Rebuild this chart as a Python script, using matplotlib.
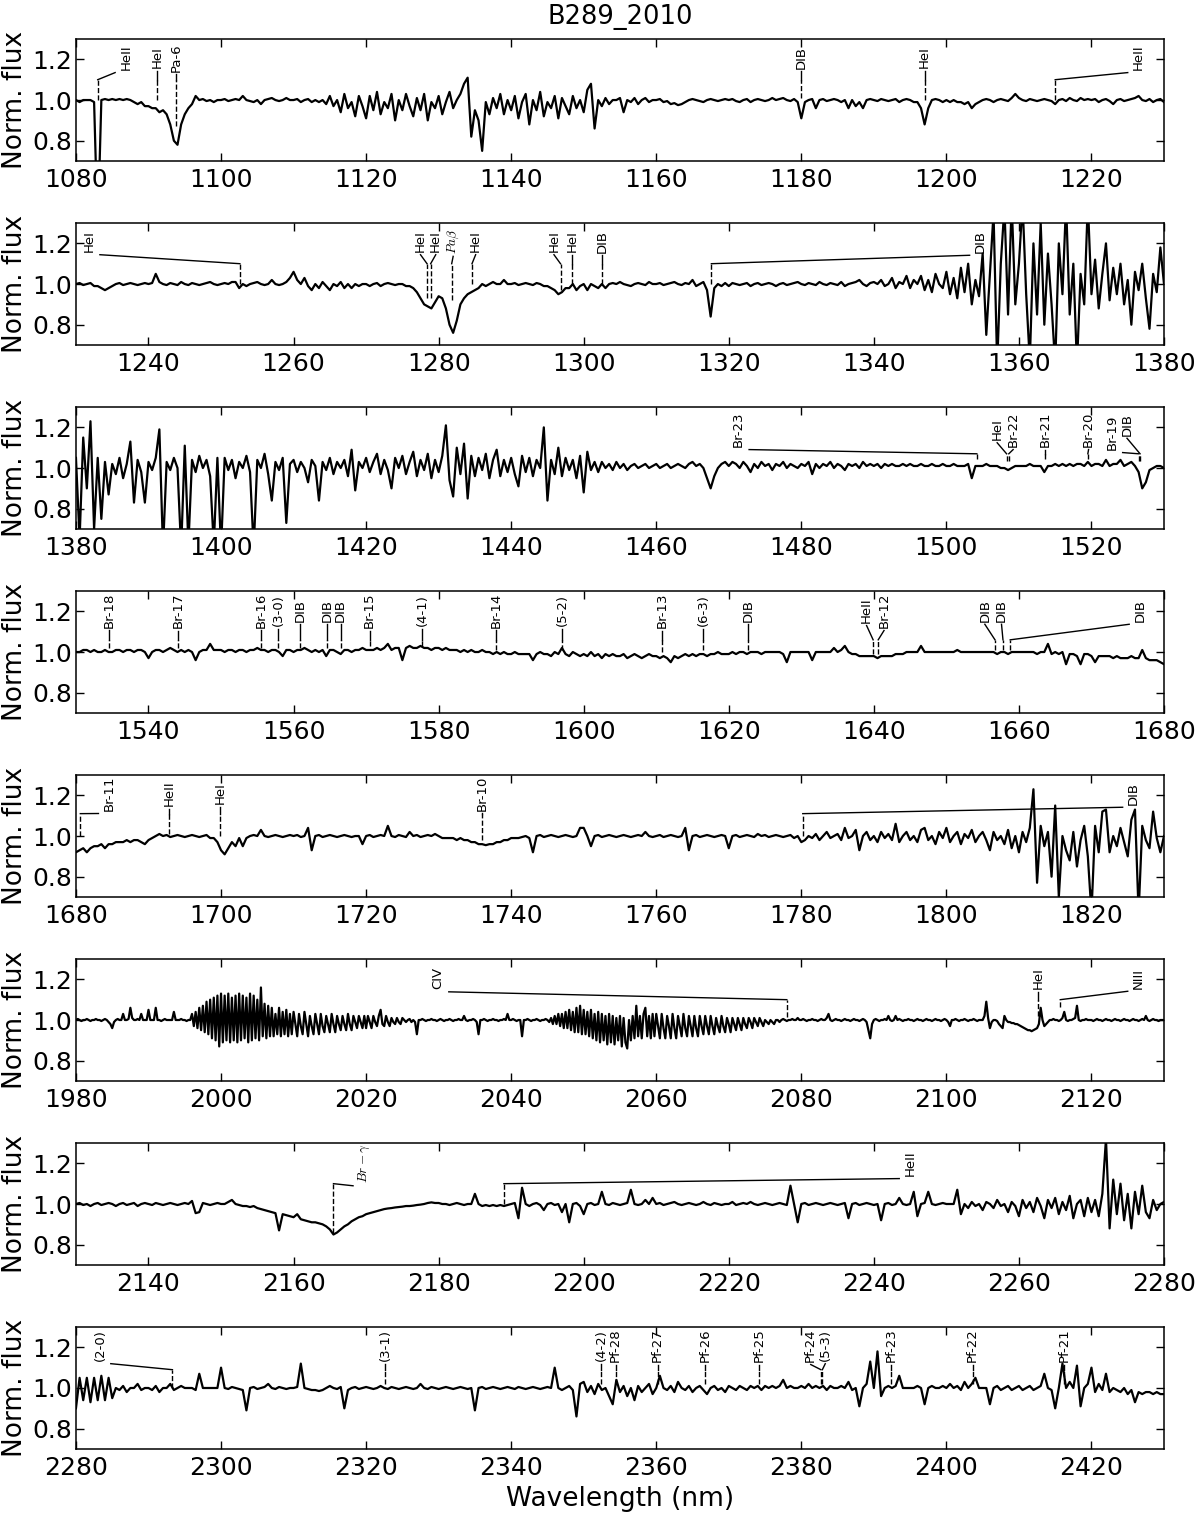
import numpy as np
import matplotlib
matplotlib.use('Agg')
import matplotlib.pyplot as plt
from matplotlib.ticker import MultipleLocator, FormatStrFormatter

plt.rcParams['font.family'] = ['DejaVu Sans']
plt.rcParams['mathtext.fontset'] = 'cm'

# ---------------- data ----------------
title = 'B289_2010'
ranges = [(1080, 1230), (1230, 1380), (1380, 1530), (1530, 1680),
          (1680, 1830), (1980, 2130), (2130, 2280), (2280, 2430)]

flux_1080_1230 = [
    1.00,0.99,1.00,1.00,1.00,0.99,0.35,1.00,1.005,1.00, 1.005,1.00,1.005,1.00,1.005,1.00,0.99,0.98,0.99,0.97,
    0.97,0.96,0.96,0.94,0.95,0.93,0.88,0.80,0.78,0.88, 0.93,0.96,0.98,1.02,1.00,1.005,0.995,1.00,0.99,1.00,
    1.00,1.005,0.995,1.00,1.005,1.00,1.02,1.00,0.995,0.99, 1.00,0.98,1.00,1.005,1.01,1.00,0.995,1.00,1.01,1.00,
    1.00,1.005,0.99,1.00,1.005,0.99,1.00,0.99,1.00,0.98, 1.02,0.97,1.00,0.94,1.03,0.96,0.99,0.92,1.02,0.97,
    0.91,1.02,0.95,1.04,0.93,0.99,0.96,1.03,0.90,1.00, 0.95,1.03,0.97,0.92,1.01,0.95,1.03,0.90,0.99,0.96,
    1.02,0.93,0.99,1.04,0.96,1.00,1.03,1.08,1.11,0.82, 0.95,0.90,0.75,0.99,0.93,1.01,0.96,1.03,0.93,1.00,
    0.95,1.02,0.91,0.99,1.03,0.88,1.00,0.95,1.04,0.92, 0.99,0.96,1.02,0.91,1.01,0.97,0.93,1.02,0.96,1.00,
    0.94,1.05,1.08,0.86,1.00,0.97,1.01,0.98,1.00,1.00, 1.01,0.94,1.00,0.99,1.01,0.98,1.00,1.01,0.99,1.00,
    1.00,1.005,0.99,0.995,0.98,0.985,0.975,0.98,0.99,1.00, 1.005,1.00,0.995,0.99,1.00,1.005,1.00,0.995,1.00,1.005,
    1.00,1.005,0.995,0.99,1.00,1.005,0.99,1.00,1.005,1.00, 0.995,1.00,1.01,1.00,1.005,1.01,1.00,0.995,1.005,0.99,
    0.91,0.99,1.00,1.005,0.96,1.00,1.005,0.995,1.00,1.005, 1.00,0.99,1.00,0.96,1.00,0.97,0.99,0.96,1.00,1.005,
    1.00,0.995,1.005,1.00,0.995,1.00,1.005,0.99,1.00,1.005, 1.00,0.99,0.99,0.96,0.88,0.96,1.00,1.005,1.00,0.99,
    1.00,0.99,1.00,0.99,0.99,0.98,0.99,0.96,0.98,0.99, 1.00,1.005,1.00,0.99,1.00,1.005,1.00,0.995,1.01,1.03,
    1.01,1.00,0.995,1.005,1.00,0.995,1.00,1.005,1.00,0.995, 0.98,1.00,1.005,0.995,1.01,1.00,0.995,1.01,1.00,1.005,
    1.00,1.005,0.99,1.00,1.005,0.995,0.98,1.00,1.005,0.995, 1.00,1.005,1.01,1.02,1.00,0.995,1.005,0.99,1.00,1.005,
    0.99]

flux_1230_1380 = [
    1.00,1.005,0.995,1.00,1.005,0.99,0.99,0.98,0.97,0.98, 0.99,1.00,1.005,0.995,1.00,1.005,1.00,0.995,1.00,1.005,
    1.00,1.005,1.05,1.01,1.00,0.995,1.005,1.00,0.995,1.01, 1.00,0.995,1.005,1.00,0.995,1.00,1.005,1.01,1.00,0.995,
    1.00,1.005,1.00,1.01,1.01,0.98,1.00,0.99,1.00,1.005, 1.01,1.00,0.995,1.00,1.02,1.00,0.995,1.00,1.01,1.03,
    1.06,1.02,1.00,1.03,0.99,0.97,1.00,0.98,1.01,0.99, 0.97,1.00,0.99,1.01,0.98,1.00,0.98,1.00,0.99,1.00,
    1.00,0.99,1.00,1.005,0.99,1.00,1.005,1.00,0.995,1.00, 1.00,0.99,0.99,0.98,0.96,0.93,0.90,0.89,0.88,0.91,
    0.94,0.93,0.88,0.80,0.76,0.82,0.90,0.93,0.95,0.96, 0.97,0.98,1.00,0.99,1.00,1.01,1.00,1.00,1.02,1.00,
    1.00,1.005,0.995,1.00,1.005,1.00,0.995,1.005,1.00,0.99, 0.99,0.98,0.97,0.95,0.96,0.98,0.98,1.00,0.97,0.99,
    1.00,0.97,1.00,0.99,0.98,1.00,0.98,1.00,1.005,1.00, 1.01,1.00,0.995,0.99,1.00,1.005,1.00,0.995,1.01,1.00,
    1.00,1.005,0.995,1.00,1.005,1.01,1.00,0.995,1.005,1.00, 1.02,0.99,1.00,1.01,0.97,0.84,0.98,1.00,0.99,1.005,
    0.99,1.005,1.00,0.995,1.00,1.005,0.99,1.00,1.005,0.995, 1.00,1.005,1.00,0.99,1.00,1.005,0.995,1.00,1.005,1.01,
    1.00,0.995,1.005,1.00,0.995,1.01,1.00,0.995,1.005,1.00, 0.995,1.01,0.99,1.00,1.005,1.01,1.02,1.00,0.99,1.005,
    1.01,1.00,1.02,0.99,1.00,1.03,0.98,1.01,1.00,1.04, 0.98,1.02,1.00,1.04,0.97,1.02,0.96,1.05,1.00,0.98,
    1.06,0.95,1.03,0.93,1.08,0.96,1.10,0.90,1.02,0.94, 1.15,0.75,1.05,1.35,0.60,1.10,1.38,0.85,1.40,0.90,
    1.10,1.40,0.95,0.62,1.20,0.85,1.30,0.80,1.15,0.90, 0.60,1.20,0.95,1.40,0.85,1.10,0.60,1.05,0.90,1.40,
    0.95,1.12,0.88,1.05,1.20,0.92,1.08,0.95,1.10,0.90, 1.02,0.80,1.06,0.97,1.10,0.93,0.78,1.05,0.96,1.18,
    1.00]

flux_1380_1530 = [
    1.05,0.65,1.15,0.90,1.23,0.70,1.05,0.75,1.03,0.87, 1.02,0.97,1.05,0.95,1.02,1.13,0.83,1.04,0.98,0.83,
    1.03,0.99,1.05,1.19,0.60,1.03,0.99,1.05,1.00,0.60, 1.11,0.62,1.04,0.98,1.06,1.00,1.04,0.96,0.62,1.05,
    0.60,1.05,0.99,1.04,0.95,1.03,1.00,1.06,0.98,0.60, 1.04,1.00,1.07,0.97,0.84,1.03,0.99,1.05,0.73,1.02,
    1.04,0.98,1.03,1.00,0.93,1.04,1.01,0.84,1.03,0.99, 1.05,0.97,1.03,1.00,1.04,0.96,1.09,0.89,1.03,1.00,
    1.05,0.98,1.03,1.07,0.97,1.04,0.99,0.90,1.05,1.00, 1.06,0.97,1.03,1.08,0.96,1.04,0.99,1.07,0.95,1.04,
    0.98,1.06,1.21,0.94,0.86,1.10,0.97,1.12,0.85,1.06, 0.96,1.05,0.99,1.07,0.95,1.04,1.09,0.96,1.04,0.98,
    1.05,0.97,0.91,1.06,0.98,1.05,0.96,1.04,1.00,1.20, 0.84,1.04,0.97,1.10,0.96,1.05,0.99,1.04,0.95,1.06,
    0.88,1.08,0.99,1.03,0.98,1.03,1.00,1.02,0.99,1.03, 1.00,1.02,0.99,1.01,1.02,1.00,1.01,1.02,1.00,1.01,
    1.02,1.00,1.01,1.02,1.00,1.01,1.02,1.01,1.00,1.02, 1.03,1.01,1.02,1.00,0.95,0.90,0.96,1.00,1.02,1.03,
    1.01,1.03,1.02,1.00,1.03,1.01,0.98,1.02,1.00,1.03, 1.01,1.02,0.99,1.02,1.01,1.03,1.00,1.02,1.01,1.00,
    1.02,1.01,1.03,0.97,1.02,1.00,1.02,1.01,1.03,1.00, 1.02,1.01,0.99,1.02,1.01,1.02,1.00,1.03,1.01,1.02,
    1.01,1.02,1.00,1.02,1.01,1.02,1.01,1.01,1.02,1.01, 1.02,1.01,1.01,1.02,1.01,1.01,1.02,1.01,1.01,1.02,
    1.01,1.01,1.02,1.01,1.01,1.01,1.02,0.95,1.01,1.01, 1.01,1.02,1.01,1.01,1.01,1.00,1.00,0.99,1.00,1.01,
    1.01,1.01,1.01,1.02,1.01,1.01,1.01,0.98,1.01,1.01, 1.02,1.01,1.02,1.01,1.02,1.01,1.02,1.02,1.01,1.03,
    1.01,1.02,1.02,1.01,1.04,1.01,1.02,1.02,1.04,1.01, 1.02,1.03,1.01,0.98,0.90,0.93,0.99,1.00,1.01,1.01,
    1.00]

flux_1530_1680 = [
    1.00,1.00,1.01,1.01,1.00,1.01,1.00,1.00,1.01,1.00, 1.00,1.01,1.01,1.00,1.01,1.01,1.00,1.01,1.01,1.00,
    0.97,1.00,1.01,1.01,1.00,1.01,1.02,1.01,1.00,1.01, 1.00,1.01,1.00,0.96,1.00,1.01,1.01,1.04,1.01,1.01,
    1.01,1.00,1.01,1.01,1.00,1.01,1.01,1.00,1.01,1.01, 1.02,1.01,1.01,1.00,1.01,1.01,1.00,0.98,1.01,1.01,
    1.00,1.01,1.01,1.02,1.01,1.00,1.01,1.00,1.01,0.98, 1.01,1.01,1.00,0.99,1.01,1.01,1.00,1.01,1.01,1.02,
    1.01,1.01,1.01,1.02,1.01,1.02,1.04,1.01,1.02,1.02, 0.96,1.02,1.03,1.02,1.02,1.03,1.02,1.02,1.01,1.02,
    1.02,1.01,1.02,1.01,1.01,1.01,1.00,1.01,1.00,1.01, 1.00,1.00,1.01,1.00,1.00,0.99,1.00,0.99,1.00,0.99,
    0.99,1.00,0.99,0.99,0.99,0.99,0.96,0.99,1.00,0.99, 0.99,0.98,1.00,0.99,1.02,0.99,0.98,1.00,0.99,0.98,
    0.99,0.98,1.00,0.98,0.99,0.97,0.99,0.98,0.99,0.98, 0.98,0.99,0.97,0.98,0.99,0.98,0.97,0.98,0.99,0.98,
    0.98,0.97,0.98,0.97,0.95,0.98,0.97,0.98,0.99,0.98, 0.99,0.98,0.99,0.99,0.98,0.99,0.99,1.00,0.99,0.99,
    0.99,1.00,0.99,1.00,1.00,0.99,1.00,1.00,1.00,0.99, 1.00,1.00,1.00,1.00,1.00,0.99,0.95,1.00,1.00,1.00,
    1.00,1.00,1.00,0.96,1.00,1.00,1.00,1.00,1.00,1.02, 1.00,1.01,1.03,1.00,0.99,0.99,0.98,0.98,0.98,0.98,
    0.98,0.97,0.98,0.98,0.98,0.98,0.99,0.99,0.99,1.00, 1.00,1.00,1.00,1.03,1.00,1.00,1.00,1.00,1.00,1.00,
    1.00,1.00,1.00,1.01,1.00,1.00,1.00,1.00,1.00,1.00, 1.00,1.00,1.00,1.00,0.99,1.00,1.00,0.99,1.00,1.00,
    1.00,1.00,1.00,1.00,1.00,0.99,1.00,1.00,1.04,0.99, 1.00,0.99,1.00,0.94,0.99,0.99,0.98,0.94,0.99,0.99,
    0.98,0.95,0.98,0.98,0.98,0.98,0.97,0.98,0.97,0.97, 0.97,0.98,0.97,0.97,1.01,0.97,0.96,0.96,0.96,0.95,
    0.94]

flux_1680_1830 = [
    0.92,0.93,0.94,0.92,0.94,0.95,0.95,0.96,0.94,0.96, 0.96,0.97,0.97,0.97,0.98,0.97,0.98,0.98,0.97,0.96,
    0.98,0.99,1.00,1.01,1.00,1.005,0.995,1.00,1.005,1.00, 0.995,1.00,1.005,1.00,0.995,1.00,1.005,0.99,0.99,0.97,
    0.93,0.91,0.94,0.97,0.95,0.99,0.95,0.99,1.00,1.005, 1.00,1.03,1.00,0.995,1.00,1.005,1.00,0.995,1.00,1.005,
    1.00,1.005,0.995,1.00,1.04,0.93,1.00,1.005,0.995,1.00, 1.005,1.00,0.995,1.00,1.005,1.00,0.995,1.00,1.00,0.96,
    1.00,1.005,0.995,1.00,1.005,1.00,1.05,1.00,0.995,1.005, 1.00,0.995,1.02,1.00,1.005,0.995,1.00,1.005,1.00,1.01,
    1.00,0.99,0.99,0.99,0.99,0.98,0.99,0.98,0.98,0.97, 0.97,0.96,0.96,0.955,0.96,0.96,0.97,0.97,0.98,0.98,
    0.99,0.99,0.99,0.995,1.00,0.99,0.92,1.00,1.005,0.995, 1.00,1.005,1.00,0.995,1.00,1.005,1.00,0.995,1.00,1.04,
    1.04,1.00,0.95,1.00,1.005,0.995,1.00,1.005,1.00,0.995, 1.00,1.005,1.00,0.995,1.00,1.005,1.00,1.02,1.00,0.995,
    1.00,1.005,0.995,1.00,1.005,1.00,0.995,1.00,1.04,0.93, 1.00,1.005,0.995,1.00,1.005,1.00,0.995,1.00,1.005,1.00,
    0.94,1.00,1.005,0.995,1.00,1.005,1.00,0.995,1.01,1.00, 1.005,0.995,1.00,1.005,1.00,0.995,1.00,1.005,0.99,1.00,
    0.97,0.98,1.00,0.99,1.01,0.98,1.00,1.02,0.99,1.00, 1.01,0.98,1.04,0.99,1.00,1.03,0.93,1.00,1.02,0.98,
    1.00,0.97,1.02,0.99,1.01,0.98,1.06,0.97,1.00,1.02, 0.98,1.00,0.97,1.03,1.04,0.98,1.00,0.96,1.02,0.99,
    1.04,0.97,1.00,1.02,0.96,1.01,0.99,1.03,0.97,1.00, 1.02,0.98,0.93,1.02,0.98,1.00,0.96,1.03,0.94,1.00,
    0.92,1.02,0.97,1.04,1.23,0.77,1.05,0.95,1.02,0.80, 1.15,0.70,1.00,0.93,0.88,1.02,0.85,0.98,1.05,0.90,
    0.62,1.05,0.92,1.12,1.13,0.92,1.00,0.95,1.04,0.97, 0.90,1.08,1.13,0.62,1.05,0.98,0.94,1.12,0.99,0.92,
    1.00]

# this panel is sampled twice as finely (0.25 nm) to follow the dense ripples
flux_1980_2130 = [
    1.00,1.005,1.00,0.995,1.00,1.00,1.005,1.00,0.995,1.00, 1.00,1.005,1.00,1.00,0.995,1.00,1.005,1.00,0.99,0.98,
    0.96,0.99,1.00,1.005,1.00,1.00,1.03,1.00,1.00,1.005, 1.06,1.01,1.00,1.00,1.005,1.00,1.03,1.00,1.00,1.00,
    1.05,1.00,1.00,1.00,1.06,1.00,1.00,0.995,1.00,1.005, 1.00,1.00,1.00,1.00,1.04,1.00,1.00,1.00,1.005,1.00,
    1.00,0.995,1.00,1.00,1.03,0.97,1.04,0.96,1.06,0.95, 1.07,0.94,1.09,0.93,1.10,0.91,1.11,0.90,1.12,0.87,
    1.13,0.89,1.12,0.90,1.13,0.89,1.11,0.90,1.12,0.89, 1.13,0.90,1.12,0.91,1.11,0.89,1.13,0.90,1.12,0.91,
    1.10,0.90,1.16,0.92,1.08,0.91,1.07,0.92,1.06,0.92, 1.03,0.93,1.06,0.92,1.04,0.93,1.05,0.92,1.03,0.93,
    1.04,0.98,0.92,1.03,0.97,0.93,1.04,0.98,0.92,1.02, 0.97,0.93,1.03,0.98,0.93,1.03,0.97,0.94,1.02,0.98,
    0.94,1.03,0.98,0.94,1.02,0.98,0.95,1.02,0.98,0.95, 1.03,0.98,0.95,1.02,0.99,0.96,1.02,0.99,0.96,1.02,
    0.96,1.02,0.99,0.96,1.02,0.99,0.97,1.02,1.05,0.98, 0.97,1.02,0.99,0.97,1.01,0.99,0.98,1.01,0.99,0.98,
    1.01,1.00,0.99,1.00,1.005,0.99,1.00,0.99,0.93,1.00, 1.00,1.005,1.00,0.995,1.00,1.00,1.005,1.00,1.00,0.995,
    1.00,1.005,1.00,0.995,1.00,1.00,1.005,1.00,0.995,1.00, 1.00,1.005,1.00,1.00,1.02,1.00,0.995,1.00,1.00,1.005,
    1.00,0.99,0.93,1.00,1.00,1.005,1.00,0.995,1.00,1.00, 1.005,1.00,1.00,0.995,1.00,1.00,1.005,1.00,1.03,1.00,
    1.00,1.005,1.00,0.995,1.00,1.00,0.92,1.00,1.00,1.005, 1.00,0.995,1.00,1.00,1.005,1.00,0.995,1.00,1.00,1.005,
    1.00,0.99,1.01,0.98,1.02,0.98,1.03,0.97,1.03,0.96, 1.04,0.96,1.05,0.95,1.04,0.94,1.06,0.94,1.07,0.93,
    1.05,0.93,1.04,0.92,1.05,0.91,1.03,0.90,1.04,0.89, 1.03,0.90,1.02,0.88,1.03,0.89,1.02,0.88,1.01,0.90,
    1.02,0.87,1.01,0.89,0.86,1.00,0.90,1.02,0.91,1.07, 0.92,1.02,0.91,1.03,1.06,0.92,1.02,0.91,1.03,0.92,
    1.03,0.97,0.91,1.03,0.96,0.91,1.02,0.97,0.91,1.03, 0.96,0.91,1.02,0.97,0.92,1.03,0.96,0.92,1.02,0.97,
    0.92,1.02,0.96,0.92,1.02,0.97,0.93,1.02,0.97,0.93, 1.02,0.97,0.93,1.01,0.97,0.94,1.02,0.97,0.94,1.01,
    0.98,0.94,1.01,0.98,0.95,1.01,0.98,0.95,1.01,0.98, 0.96,1.01,0.99,0.96,1.01,0.99,0.97,1.01,0.99,0.97,
    1.00,0.99,0.98,1.00,0.99,0.98,1.00,1.00,0.99,1.00, 1.005,1.00,0.995,1.00,1.00,1.005,1.00,1.00,1.01,1.00,
    1.00,1.005,1.00,0.995,1.00,1.00,1.005,1.00,1.00,0.995, 1.00,1.005,1.00,1.00,1.01,1.03,1.00,0.995,1.00,1.005,
    1.00,1.00,0.995,1.00,1.005,1.00,1.00,0.995,1.00,1.005, 1.00,1.00,0.995,1.00,1.005,1.00,0.99,0.95,0.91,0.98,
    1.00,1.005,1.00,0.995,1.00,1.00,1.005,1.00,1.02,1.00, 0.995,1.00,1.02,1.00,1.005,1.00,0.995,1.00,1.00,1.005,
    1.00,1.00,0.995,1.00,1.005,1.00,1.00,0.995,1.00,1.005, 1.00,1.00,0.995,1.00,1.005,1.00,1.00,0.995,1.00,1.005,
    1.00,0.99,0.97,1.00,1.00,1.005,1.00,0.995,1.00,1.00, 1.005,1.00,0.995,1.00,1.00,1.005,1.00,0.995,1.00,1.00,
    1.00,1.02,1.09,1.01,0.96,0.99,1.00,1.00,0.995,0.98, 0.97,0.96,1.02,1.00,0.99,0.99,0.985,0.985,0.98,0.98,
    0.975,0.97,0.965,0.96,0.955,0.95,0.95,0.945,0.95,0.955, 0.96,0.98,1.06,1.00,0.97,0.98,0.99,1.00,1.00,1.005,
    1.00,1.00,0.995,1.00,1.01,1.04,1.00,0.995,1.00,1.00, 1.005,1.01,1.07,1.00,0.995,1.00,1.00,1.005,1.00,1.00,
    1.00,0.995,1.00,1.005,1.00,1.00,0.995,1.00,1.005,1.00, 1.00,0.995,1.00,1.005,1.00,1.00,0.995,1.00,1.005,1.00,
    1.00,0.995,1.00,1.005,1.00,1.00,0.995,1.00,1.005,1.00, 1.02,1.00,0.995,1.00,1.005,1.00,1.00,0.995,1.00,1.00,
    1.00]

flux_2130_2280 = [
    1.00,1.005,0.995,1.00,0.99,1.00,1.005,0.995,1.00,1.005, 1.00,0.99,1.00,1.005,0.995,1.00,1.005,0.99,1.00,1.005,
    1.00,0.995,1.005,1.00,0.995,1.00,1.005,1.00,0.995,1.00, 1.005,1.00,1.015,0.955,0.96,1.005,1.00,0.995,1.00,1.005,
    1.00,1.00,1.01,1.02,1.00,0.995,0.99,0.99,0.985,0.99, 0.98,0.975,0.97,0.965,0.96,0.955,0.87,0.95,0.945,0.94,
    0.935,0.95,0.925,0.92,0.915,0.91,0.91,0.905,0.90,0.89, 0.875,0.85,0.86,0.875,0.89,0.90,0.915,0.925,0.935,0.94,
    0.95,0.955,0.96,0.965,0.97,0.975,0.978,0.98,0.983,0.985, 0.987,0.99,0.99,0.992,0.995,0.997,1.00,1.005,1.008,1.005,
    1.005,1.00,1.00,0.995,1.00,1.005,1.00,0.995,1.00,1.00, 1.05,1.00,0.99,0.995,0.99,0.995,0.99,0.995,0.99,0.995,
    1.00,1.005,0.93,1.08,1.00,0.99,1.00,1.005,0.995,0.97, 1.00,1.005,0.995,1.00,0.96,1.00,0.91,1.00,1.005,0.99,
    0.95,1.00,1.005,0.995,1.00,1.06,1.00,0.995,1.005,1.00, 0.995,1.00,1.005,1.07,1.00,0.995,1.00,1.02,1.00,1.03,
    1.00,1.005,0.995,1.00,1.005,1.01,1.00,0.995,1.00,1.005, 1.00,0.995,1.00,1.01,1.00,0.995,1.005,1.00,0.995,1.00,
    1.00,1.01,0.995,1.00,1.005,1.00,1.01,1.00,0.995,1.00, 1.005,1.00,0.995,1.00,1.005,1.00,0.995,1.09,1.00,0.91,
    1.00,1.005,0.995,1.00,1.005,1.00,0.995,1.00,1.005,1.00, 0.995,1.00,1.005,0.93,1.00,1.005,0.995,1.00,1.005,1.00,
    0.995,1.00,0.92,1.00,1.005,0.995,1.00,1.03,1.00,0.995, 1.00,1.06,0.94,1.00,1.005,1.06,1.00,0.995,1.00,1.005,
    1.00,1.00,1.00,1.07,0.95,1.00,0.98,1.01,0.99,1.00, 0.97,1.01,1.00,0.98,1.02,0.99,1.00,0.96,1.01,0.99,
    0.94,1.02,0.98,1.01,0.96,1.03,0.99,0.93,1.02,0.98, 1.03,0.95,1.01,0.97,1.04,0.93,1.00,1.02,0.94,1.03,
    0.96,1.02,0.94,1.05,1.32,0.88,1.12,0.95,1.10,0.92, 1.05,0.88,1.06,0.95,1.09,0.96,0.93,1.02,0.97,1.00,
    1.01]

flux_2280_2430 = [
    0.90,1.05,0.94,1.05,0.93,1.05,0.94,1.06,0.94,1.05, 0.95,1.00,0.99,1.01,0.98,1.00,1.00,1.02,0.99,1.00,
    1.00,0.99,1.01,0.98,1.00,1.00,1.02,0.99,1.00,1.01, 1.00,1.00,1.00,0.99,1.07,1.00,1.00,1.00,1.00,1.00,
    1.10,1.00,0.995,1.005,1.00,0.995,0.99,0.89,1.00,1.005, 0.995,1.00,1.005,1.02,1.00,0.995,1.005,1.00,0.995,1.00,
    1.00,1.005,1.12,1.00,0.995,0.99,0.99,0.985,0.99,1.00, 1.01,1.00,0.995,1.005,0.90,0.99,1.00,1.005,0.995,1.00,
    1.005,1.00,0.995,1.00,1.01,1.00,0.995,1.005,1.00,0.995, 1.00,1.005,1.00,0.995,1.00,1.02,1.00,0.995,1.005,1.00,
    0.995,1.00,1.005,1.00,0.995,1.00,1.005,1.00,0.995,1.00, 0.89,1.00,1.005,0.995,1.00,1.005,1.00,0.995,1.00,1.005,
    1.00,0.995,1.005,1.00,0.995,1.00,1.005,1.00,0.995,1.00, 1.005,1.00,1.10,1.00,0.99,1.00,1.01,0.99,0.86,1.02,
    1.03,0.98,1.01,0.97,1.02,0.99,1.00,0.96,0.92,1.04, 0.98,1.01,0.96,1.00,0.94,1.01,0.98,1.00,1.02,0.97,
    1.00,1.06,1.00,0.99,1.01,0.98,1.03,1.00,0.99,1.01, 0.98,1.00,1.01,0.99,0.97,1.00,1.01,0.99,1.00,0.98,
    1.01,1.00,0.99,1.01,1.00,0.99,1.01,1.00,1.01,0.99, 1.01,1.00,1.01,1.00,1.01,1.04,1.00,1.01,1.00,1.00,
    1.01,1.00,1.02,1.00,1.01,1.00,1.01,0.99,1.01,1.00, 1.00,1.01,1.00,1.03,0.99,1.00,0.91,1.00,1.02,1.13,
    1.00,1.18,0.96,1.00,1.01,1.00,1.01,1.06,1.00,1.00, 1.00,1.00,1.01,1.00,0.92,1.00,1.01,1.00,1.00,1.01,
    1.00,1.02,1.00,1.01,0.99,1.03,1.00,1.02,1.05,1.00, 1.00,1.00,0.92,1.00,1.01,0.99,1.00,1.01,0.99,1.00,
    1.01,0.99,1.00,1.01,0.99,1.00,1.01,1.07,1.00,0.99, 0.90,1.00,1.12,1.00,1.03,1.00,1.11,0.91,1.00,1.02,
    1.10,0.98,1.02,0.99,1.07,0.98,1.00,0.99,0.98,1.00, 0.97,0.99,0.93,0.98,0.97,0.98,0.98,0.97,0.98,0.97,
    0.97]

fluxes = [flux_1080_1230, flux_1230_1380, flux_1380_1530, flux_1530_1680,
          flux_1680_1830, flux_1980_2130, flux_2130_2280, flux_2280_2430]

# line identifications: (label, line wavelength, label wavelength, lower end of marker[, label height])
lines_p1 = [('HeII', 1083.0, 1086.9, 1.00), ('HeI', 1091.2, 1091.2, 1.00),
            ('Pa-6', 1093.8, 1093.8, 0.87), ('DIB', 1180.0, 1180.0, 1.01),
            ('HeI', 1197.0, 1197.0, 1.00), ('HeII', 1215.0, 1226.5, 1.00)]
lines_p2 = [('HeI', 1252.6, 1231.8, 1.00), ('HeI', 1278.4, 1277.5, 0.93),
            ('HeI', 1278.9, 1279.6, 0.93), (r'$Pa\beta$', 1281.8, 1282.0, 0.92),
            ('HeI', 1284.6, 1285.1, 1.00), ('HeI', 1296.8, 1295.9, 0.97),
            ('HeI', 1298.4, 1298.4, 1.00), ('DIB', 1302.5, 1302.5, 1.00),
            ('DIB', 1317.6, 1354.7, 1.00)]
lines_p3 = [('Br-23', 1504.2, 1471.3, 1.045), ('HeI', 1508.3, 1507.0, 1.035),
            ('Br-22', 1508.6, 1509.2, 1.035), ('Br-21', 1513.6, 1513.6, 1.045),
            ('Br-20', 1519.5, 1519.6, 1.045), ('Br-19', 1526.5, 1522.8, 1.035, 1.175),
            ('DIB', 1526.7, 1524.9, 1.035, 1.215)]
lines_p4 = [('Br-18', 1534.6, 1534.6, 1.02), ('Br-17', 1544.1, 1544.1, 1.02),
            ('Br-16', 1555.5, 1555.5, 1.02), ('(3-0)', 1557.9, 1557.9, 1.02),
            ('DIB', 1560.9, 1560.9, 1.02), ('DIB', 1564.6, 1564.6, 1.02),
            ('DIB', 1566.5, 1566.5, 1.02), ('Br-15', 1570.5, 1570.5, 1.03),
            ('(4-1)', 1577.7, 1577.7, 1.03), ('Br-14', 1587.9, 1587.9, 1.01),
            ('(5-2)', 1597.0, 1597.0, 1.01), ('Br-13', 1610.8, 1610.8, 1.00),
            ('(6-3)', 1616.5, 1616.5, 1.01), ('DIB', 1622.7, 1622.7, 1.01),
            ('HeII', 1639.9, 1639.0, 0.99), ('Br-12', 1640.6, 1641.4, 0.99),
            ('DIB', 1656.7, 1655.3, 1.01), ('DIB', 1657.8, 1657.6, 1.01),
            ('DIB', 1658.8, 1676.7, 1.01)]
lines_p5 = [('Br-11', 1680.6, 1684.6, 1.00), ('HeII', 1692.8, 1692.8, 1.01),
            ('HeI', 1699.9, 1699.9, 1.00), ('Br-10', 1736.0, 1736.0, 0.98),
            ('DIB', 1780.2, 1825.8, 1.00)]
lines_p6 = [('CIV', 2078.0, 2029.9, 1.015), ('HeI', 2112.6, 2112.6, 1.02),
            ('NIII', 2115.7, 2126.5, 1.066)]
lines_p7 = [(r'$Br-\gamma$', 2165.5, 2169.7, 0.855), ('HeII', 2189.0, 2245.0, 1.00)]
lines_p8 = [('(2-0)', 2293.3, 2283.3, 1.00), ('(3-1)', 2322.6, 2322.6, 1.02),
            ('(4-2)', 2352.4, 2352.4, 1.02), ('Pf-28', 2354.4, 2354.4, 1.02),
            ('Pf-27', 2360.2, 2360.2, 1.02), ('Pf-26', 2366.7, 2366.7, 1.02),
            ('Pf-25', 2374.2, 2374.2, 1.02), ('Pf-24', 2382.7, 2381.3, 1.02),
            ('(5-3)', 2382.9, 2383.3, 1.02), ('Pf-23', 2392.4, 2392.4, 1.02),
            ('Pf-22', 2403.6, 2403.6, 1.02), ('Pf-21', 2416.2, 2416.2, 1.02)]
line_ids = [lines_p1, lines_p2, lines_p3, lines_p4, lines_p5, lines_p6, lines_p7, lines_p8]

# ---------------- style ----------------
label_y = [1.21, 1.21, 1.19, 1.205, 1.21, 1.205, 1.20, 1.21]
marker_top = [1.10, 1.10, 1.07, 1.06, 1.11, 1.10, 1.10, 1.09]

fig, axes = plt.subplots(8, 1, figsize=(12, 15.13), dpi=100)
fig.patch.set_facecolor('white')
fig.subplots_adjust(left=0.0633, right=0.97, top=0.9742, bottom=0.0423, hspace=0.508)

texts = []
for i, ax in enumerate(axes):
    lo, hi = ranges[i]
    fl = np.array(fluxes[i], dtype=float)
    wl = np.linspace(lo, hi, len(fl))
    ax.plot(wl, fl, color='black', lw=1.6)
    ax.set_xlim(lo, hi)
    ax.set_ylim(0.7, 1.3)
    ax.xaxis.set_major_locator(MultipleLocator(20))
    ax.set_yticks([0.8, 1.0, 1.2])
    ax.yaxis.set_major_formatter(FormatStrFormatter('%.1f'))
    ax.tick_params(direction='in', top=True, right=True, length=6, width=1,
                   labelsize=18)
    ax.tick_params(axis='x', pad=5)
    ax.tick_params(axis='y', pad=3)
    for s in ax.spines.values():
        s.set_linewidth(1.1)
    ax.set_ylabel('Norm. flux', fontsize=19, labelpad=3)
    for ann in line_ids[i]:
        lab, lw_, lx, dbot = ann[:4]
        ty = ann[4] if len(ann) > 4 else label_y[i]
        t = ax.text(lx, ty, lab, rotation=90, ha='center', va='center', fontsize=9.5)
        texts.append((ax, t, lw_, lx, dbot, marker_top[i]))

axes[0].set_title(title, fontsize=18.5, pad=11)
axes[-1].set_xlabel('Wavelength (nm)', fontsize=19)

fig.canvas.draw()
renderer = fig.canvas.get_renderer()
for ax, t, lw_, lx, dbot, dtop in texts:
    bb = t.get_window_extent(renderer)
    inv = ax.transData.inverted()
    _, ybot = inv.transform((bb.x0, bb.y0))
    yconn = ybot - 0.012
    ax.plot([lw_, lw_], [dbot, dtop], ls='--', color='black', lw=1)
    diff = lw_ - lx
    sx = lx + (np.sign(diff) * 1.5 if abs(diff) > 3 else 0.0)
    ax.plot([lw_, sx], [dtop, yconn], color='black', lw=1)

fig.savefig('out.png', dpi=100, facecolor='white')
